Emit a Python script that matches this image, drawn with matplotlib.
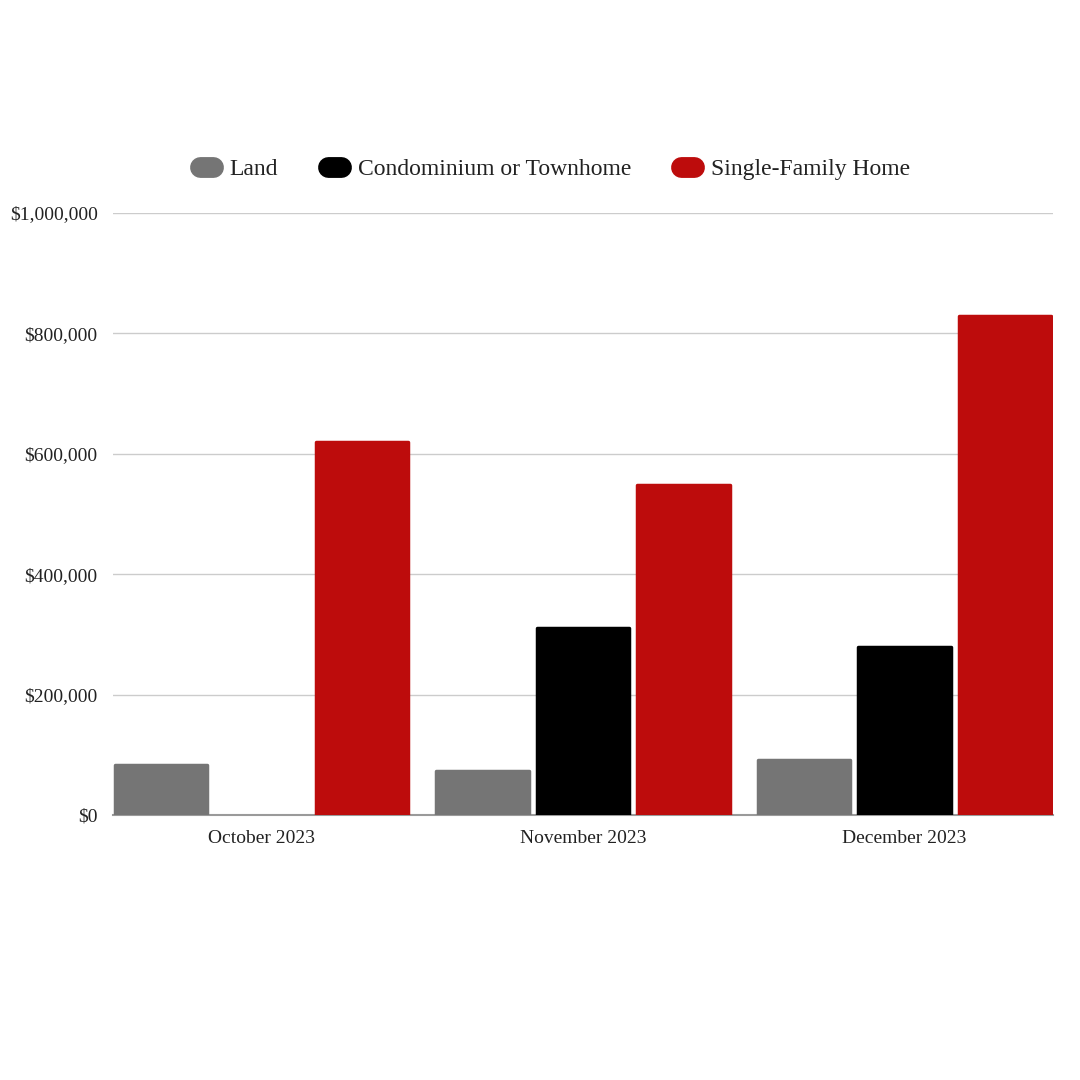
import matplotlib
matplotlib.use('Agg')
import matplotlib.pyplot as plt
from matplotlib.lines import Line2D
import numpy as np

plt.rcParams.update({
    'font.family': 'serif',
    'font.serif': ['Liberation Serif', 'DejaVu Serif'],
    'font.size': 14,
    'text.color': '#222222',
    'xtick.color': '#222222',
    'ytick.color': '#222222',
})

# ========== Data ==========
months = ['October 2023', 'November 2023', 'December 2023']
series = ['Land', 'Condominium or Townhome', 'Single-Family Home']
land = [83000, 73000, 91000]
condo = [0, 311000, 279000]
single_family = [620000, 548000, 829000]
yticks = [0, 200000, 400000, 600000, 800000, 1000000]

colors = ['#757575', '#000000', '#bd0c0c']

# ========== Plot ==========
fig = plt.figure(figsize=(10.8, 10.8), dpi=100)
ax = fig.add_axes([0.1046, 0.2454, 0.8704, 0.5574])

x = np.arange(len(months))
bar_w = 0.288
step = 0.313
edge_lw = 2.5  # rounded corners via round joins

for i, (vals, c) in enumerate(zip([land, condo, single_family], colors)):
    bars = ax.bar(x + (i - 1) * step, vals, bar_w, color=c, edgecolor=c,
                  linewidth=edge_lw, joinstyle='round', zorder=3)
    for b, v in zip(bars, vals):
        if v == 0:
            b.set_linewidth(0)

ax.set_xlim(-0.462, 2.462)
ax.set_ylim(0, 1000000)
ax.set_yticks(yticks)
ax.set_yticklabels(['${:,}'.format(v) for v in yticks])
ax.set_xticks(x)
ax.set_xticklabels(months)
ax.tick_params(axis='both', length=0, labelsize=14)
ax.tick_params(axis='y', pad=11)
ax.tick_params(axis='x', pad=11)

ax.grid(axis='y', color='#cccccc', linewidth=1.0, zorder=0)
ax.set_axisbelow(True)
for s in ['top', 'right', 'left']:
    ax.spines[s].set_visible(False)
ax.spines['bottom'].set_color('#9a9a9a')
ax.spines['bottom'].set_linewidth(1.5)
ax.spines['bottom'].set_zorder(2)

# ========== Legend ==========
handles = [Line2D([], [], color=c, lw=15, solid_capstyle='round') for c in colors]
fig.legend(handles, series, loc='center', bbox_to_anchor=(0.5135, 0.8435),
           ncol=3, frameon=False, fontsize=17,
           handlelength=0.55, handletextpad=0.72, columnspacing=2.1)

fig.savefig('out.png', dpi=100)
